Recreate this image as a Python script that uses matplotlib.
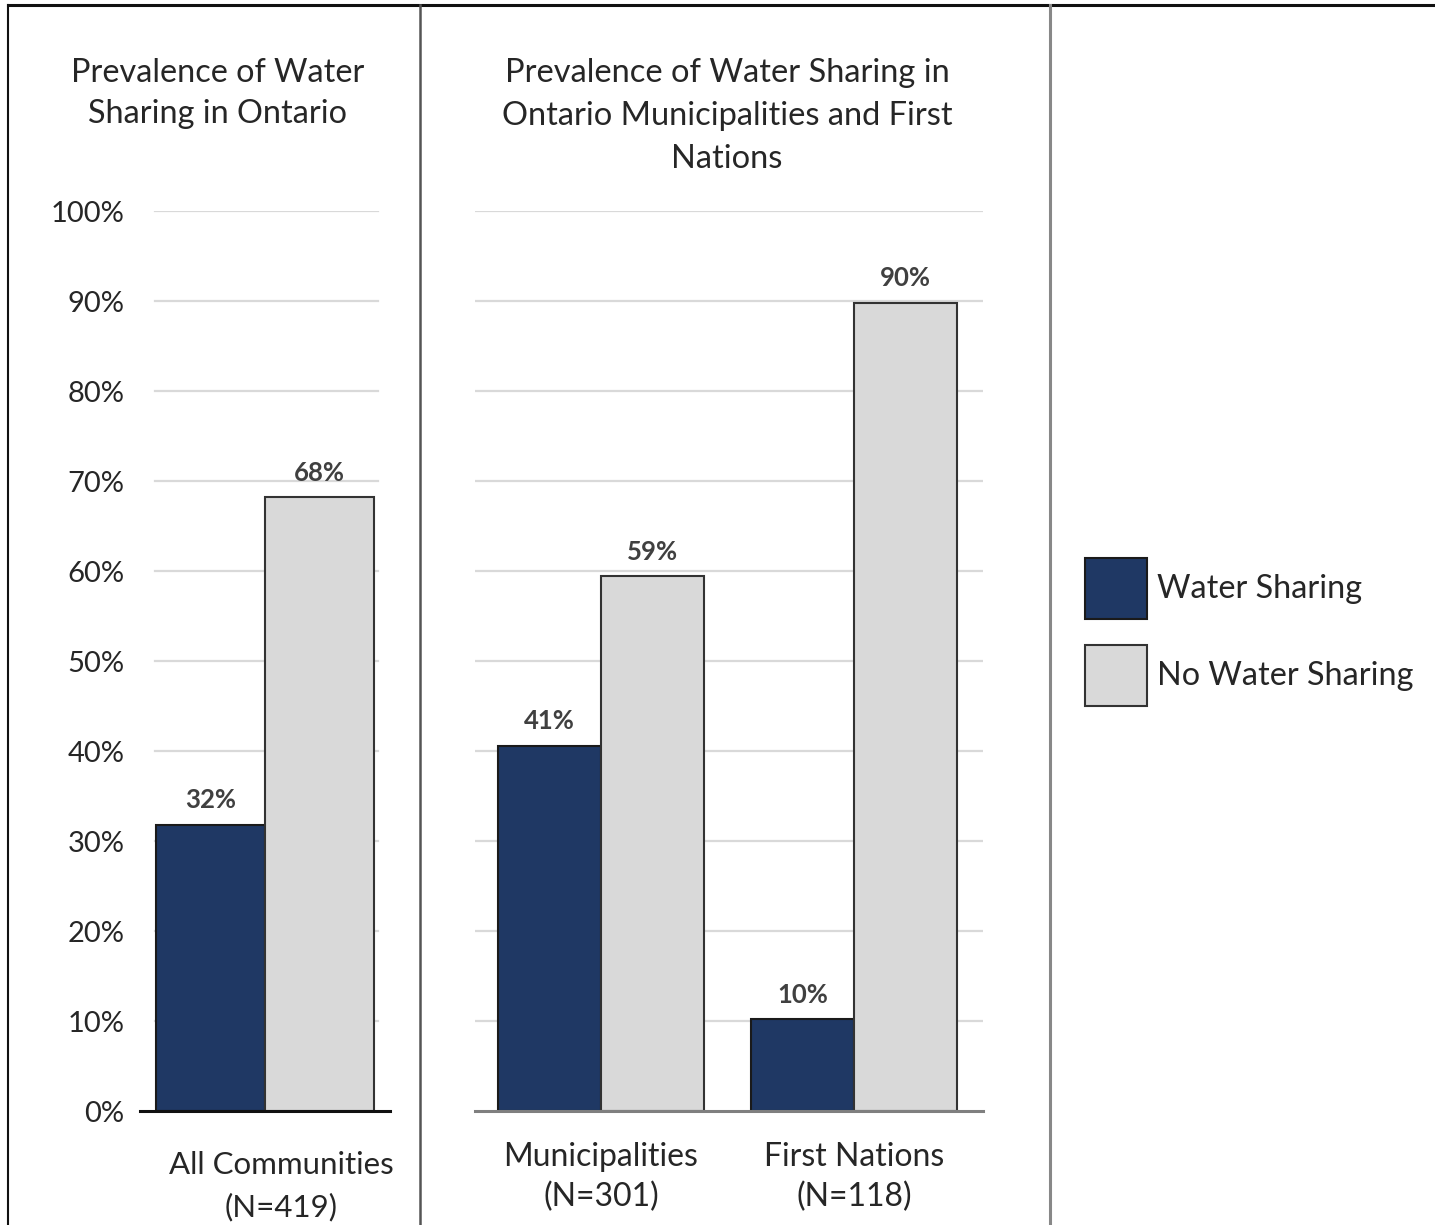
import matplotlib
matplotlib.use("Agg")
import matplotlib.pyplot as plt
from matplotlib.patches import Patch
from matplotlib.lines import Line2D
from matplotlib.transforms import ScaledTranslation
import numpy as np

plt.rcParams['font.family'] = ['Lato', 'DejaVu Sans']

# ---- data ----
series_names = ["Water Sharing", "No Water Sharing"]
left_categories = ["All Communities\n(N=419)"]
left_sharing = [31.8]
left_no_sharing = [68.2]
right_categories = ["Municipalities\n(N=301)", "First Nations\n(N=118)"]
right_sharing = [40.6, 10.2]
right_no_sharing = [59.4, 89.8]
yticks = [0, 10, 20, 30, 40, 50, 60, 70, 80, 90, 100]
left_title = "Prevalence of Water\nSharing in Ontario"
right_title = "Prevalence of Water Sharing in\nOntario Municipalities and First\nNations"

BLUE = "#1F3864"
GRAY = "#D9D9D9"
TEXT = "#262626"
W, H = 1435, 1225

fig = plt.figure(figsize=(W / 100, H / 100), dpi=100)

def fx(px):
    return px / W

def fy(py):
    return 1 - py / H

ax_bottom = fy(1111)
ax_height = (1111 - 211) / H

axL = fig.add_axes([fx(140), ax_bottom, (390 - 140) / W, ax_height])
axR = fig.add_axes([fx(475), ax_bottom, (983 - 475) / W, ax_height])

def style(ax, grid_xmin, grid_xmax, axis_color):
    ax.set_ylim(0, 100)
    for s in ["top", "right", "left"]:
        ax.spines[s].set_visible(False)
    ax.spines["bottom"].set_color(axis_color)
    ax.spines["bottom"].set_linewidth(2.2)
    ax.spines["bottom"].set_zorder(5)
    for t in yticks[1:]:
        ax.axhline(t, xmin=grid_xmin, xmax=grid_xmax, color="#D9D9D9", lw=1.6, zorder=0)
    ax.tick_params(axis="both", length=0)

def pct_labels(vals):
    return [f"{int(round(v))}%" for v in vals]

LBL_KW = dict(padding=9, fontsize=18.5, color="#404040", fontweight="bold")

# left chart
xl = np.arange(len(left_categories))
bw_l = 0.436
b1 = axL.bar(xl - bw_l / 2, left_sharing, bw_l, color=BLUE, edgecolor="#1a1a1a", lw=1.5, zorder=2)
b2 = axL.bar(xl + bw_l / 2, left_no_sharing, bw_l, color=GRAY, edgecolor="#333333", lw=1.5, zorder=2)
axL.set_xlim(-0.5, 0.5)
style(axL, 0.06, 0.95, "#111111")
axL.set_yticks(yticks)
axL.set_yticklabels([f"{t}%" for t in yticks], fontsize=21, color=TEXT)
axL.tick_params(axis="y", pad=11)
axL.set_xticks(xl)
axL.set_xticklabels(left_categories, fontsize=22.5, color=TEXT, linespacing=1.55)
axL.tick_params(axis="x", pad=29)
for lab in axL.get_xticklabels():
    lab.set_transform(lab.get_transform() + ScaledTranslation(16 / 100, 0, fig.dpi_scale_trans))
axL.bar_label(b1, labels=pct_labels(left_sharing), **LBL_KW)
axL.bar_label(b2, labels=pct_labels(left_no_sharing), **LBL_KW)
axL.set_title(left_title, fontsize=23.3, color=TEXT, pad=0, linespacing=1.45,
              y=(1111 - 93.5) / 900, va="center", x=(218 - 140) / 250)

# right chart
xr = np.arange(len(right_categories))
bw_r = 0.407
r1 = axR.bar(xr - bw_r / 2, right_sharing, bw_r, color=BLUE, edgecolor="#1a1a1a", lw=1.5, zorder=2)
r2 = axR.bar(xr + bw_r / 2, right_no_sharing, bw_r, color=GRAY, edgecolor="#333333", lw=1.5, zorder=2)
axR.set_xlim(-0.498, 1.51)
style(axR, 0.0, 1.0, "#7f7f7f")
axR.set_yticks(yticks)
axR.set_yticklabels([])
axR.set_xticks(xr)
axR.set_xticklabels(right_categories, fontsize=23, color=TEXT, linespacing=1.42)
axR.tick_params(axis="x", pad=22)
axR.bar_label(r1, labels=pct_labels(right_sharing), **LBL_KW)
axR.bar_label(r2, labels=pct_labels(right_no_sharing), **LBL_KW)
axR.set_title(right_title, fontsize=23.5, color=TEXT, pad=0, linespacing=1.53,
              y=(1111 - 116) / 900, va="center", x=(727 - 475) / 508)

# legend
handles = [Patch(facecolor=BLUE, edgecolor="#1a1a1a", lw=1.5),
           Patch(facecolor=GRAY, edgecolor="#333333", lw=1.5)]
fig.legend(handles, series_names, loc="upper left", bbox_to_anchor=(fx(1085), fy(558)),
           frameon=False, fontsize=23.3, handlelength=1.91, handleheight=2.52,
           handletextpad=0.3, labelspacing=0.8, borderpad=0, borderaxespad=0,
           labelcolor=TEXT)

# frame lines
fig.add_artist(Line2D([fx(8), 1], [fy(5), fy(5)], color="#111111", lw=2.2))
fig.add_artist(Line2D([fx(8), fx(8)], [0, fy(5)], color="#111111", lw=1.5))
fig.add_artist(Line2D([fx(420), fx(420)], [0, fy(5)], color="#555555", lw=1.8))
fig.add_artist(Line2D([fx(1050), fx(1050)], [0, fy(5)], color="#888888", lw=2.2))

fig.savefig("out.png", dpi=100)
